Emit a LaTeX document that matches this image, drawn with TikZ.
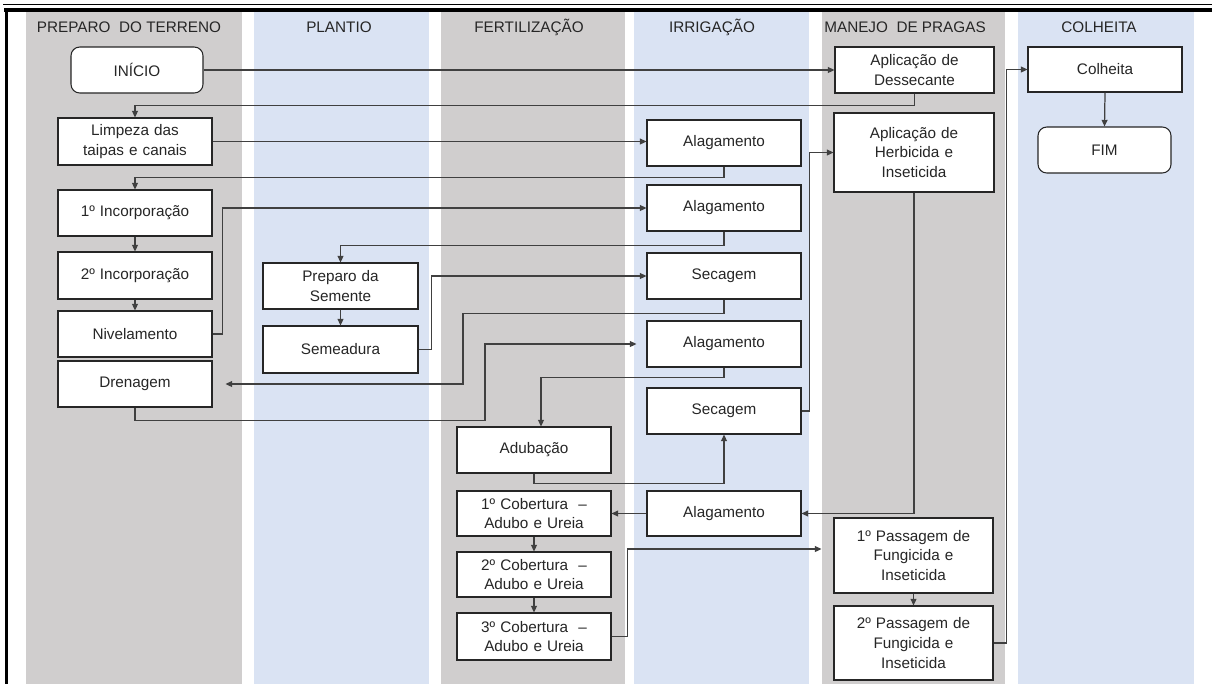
\documentclass[tikz,border=0pt]{standalone}
\usepackage{fontspec}
\setmainfont{Liberation Sans}
\usetikzlibrary{arrows.meta}
\definecolor{lanegray}{RGB}{208,206,206}
\definecolor{laneblue}{RGB}{218,227,243}
\definecolor{txt}{RGB}{38,38,38}
\definecolor{conn}{RGB}{64,64,64}
\tikzset{
  boxnode/.style 2 args={draw=black!85, line width=0.6pt, fill=white, align=center,
    text=txt, font=\fontsize{8.7}{11.3}\selectfont, inner sep=1pt,
    minimum width=#1*0.02cm, minimum height=#2*0.02cm, text width=#1*0.02cm-6pt},
  roundnode/.style 2 args={boxnode={#1}{#2}, rounded corners=5pt},
  lanehead/.style={text=txt, font=\fontsize{8.7}{10}\selectfont, anchor=center},
  flow/.style={draw=conn, line width=0.7pt, -{Triangle[length=3.8pt,width=3.4pt]}},
}
\begin{document}
\begin{tikzpicture}[x=0.02cm,y=-0.02cm]
\useasboundingbox (0,0) rectangle (1212,684);
\fill[white] (0,0) rectangle (1212,684);
% lanes
\fill[lanegray] (26,12) rectangle (242,684);
\fill[laneblue] (254,12) rectangle (429,684);
\fill[lanegray] (441,12) rectangle (625,684);
\fill[laneblue] (634,12) rectangle (809,684);
\fill[lanegray] (822,12) rectangle (1005,684);
\fill[laneblue] (1018,12) rectangle (1194,684);
% frame
\draw[line width=0.8pt] (3,4.5) -- (1212,4.5);
\draw[line width=2.3pt] (4,10) -- (1212,10);
\draw[line width=2pt] (6.5,9) -- (6.5,684);
% headers
\node[lanehead] (h1) at (129,27) {PREPARO\ \ DO TERRENO};
\node[lanehead] (h2) at (339,27) {PLANTIO};
\node[lanehead] (h3) at (529,27) {FERTILIZAÇÃO};
\node[lanehead] (h4) at (712,27) {IRRIGAÇÃO};
\node[lanehead] (h5) at (905,27) {MANEJO\ \ DE PRAGAS};
\node[lanehead] (h6) at (1099,27) {COLHEITA};
% nodes
\node[roundnode={132}{46}] (inicio) at (137,70) {INÍCIO};
\node[boxnode={154}{47}] (limpeza) at (135,141.5) {Limpeza das\\taipas e canais};
\node[boxnode={154}{46}] (inc1) at (135,213) {1º Incorporação};
\node[boxnode={154}{47}] (inc2) at (135,275.5) {2º Incorporação};
\node[boxnode={154}{46}] (nivel) at (135,334) {Nivelamento};
\node[boxnode={154}{46}] (dren) at (135,384) {Drenagem};
\node[boxnode={155}{46}] (prep) at (340.5,286) {Preparo da\\Semente};
\node[boxnode={155}{47}] (seme) at (340.5,349.5) {Semeadura};
\node[boxnode={154}{46}] (adub) at (534,450) {Adubação};
\node[boxnode={154}{45}] (cob1) at (534,513.5) {1º Cobertura \ –\\Adubo e Ureia};
\node[boxnode={154}{45}] (cob2) at (534,574.5) {2º Cobertura \ –\\Adubo e Ureia};
\node[boxnode={154}{47}] (cob3) at (534,636.5) {3º Cobertura \ –\\Adubo e Ureia};
\node[boxnode={154}{46}] (alag1) at (724,143) {Alagamento};
\node[boxnode={154}{46}] (alag2) at (724,208) {Alagamento};
\node[boxnode={154}{46}] (sec1) at (724,276) {Secagem};
\node[boxnode={154}{46}] (alag3) at (724,344) {Alagamento};
\node[boxnode={154}{46}] (sec2) at (724,411) {Secagem};
\node[boxnode={154}{45}] (alag4) at (724,513.5) {Alagamento};
\node[boxnode={159}{46}] (dess) at (914.5,70) {Aplicação de\\Dessecante};
\node[boxnode={160}{79}] (herb) at (914,152.5) {Aplicação de\\Herbicida e\\Inseticida};
\node[boxnode={159}{75}] (pass1) at (913.5,555.5) {1º Passagem de\\Fungicida e\\Inseticida};
\node[boxnode={159}{74}] (pass2) at (913.5,643) {2º Passagem de\\Fungicida e\\Inseticida};
\node[boxnode={154}{45}] (colh) at (1105,69.5) {Colheita};
\node[roundnode={133}{46}] (fim) at (1104.5,150) {FIM};
% connectors
\draw[flow] (inicio.east) -- (dess.west);
\draw[flow] (dess.south) -- ++(0,12) -| (limpeza.north);
\draw[flow] (limpeza.east) -- (limpeza.east -| alag1.west);
\draw[flow] (alag1.south) -- ++(0,11) -| (inc1.north);
\draw[flow] (inc1.south) -- (inc2.north);
\draw[flow] (inc2.south) -- (nivel.north);
\draw[flow] (nivel.east) -- ++(10,0) |- (alag2.west);
\draw[flow] (alag2.south) -- ++(0,14) -| (prep.north);
\draw[flow] (prep.south) -- (seme.north);
\draw[flow] (seme.east) -- ++(13,0) |- (sec1.west);
\draw[flow, shorten >=0.26cm] (sec1.south) -- ++(0,14) -- ++(-261,0) |- (dren.east);
\draw[flow, shorten >=0.2cm] (dren.south) -- ++(0,13) -- ++(350,0) |- (alag3.west);
\draw[flow] (alag3.south) -- ++(0,10) -| ([xshift=0.14cm]adub.north);
\draw[flow] (adub.south) -- ++(0,10) -| (sec2.south);
\draw[flow] (sec2.east) -- ++(8,0) |- (herb.west);
\draw[flow] (herb.south) |- (alag4.east);
\draw[flow] (alag4.west) -- (cob1.east);
\draw[flow] (cob1.south) -- (cob2.north);
\draw[flow] (cob2.south) -- (cob3.north);
\draw[flow, shorten >=0.24cm] (cob3.east) -- ++(16,0) |- ([yshift=0.13cm]pass1.west);
\draw[flow] (pass1.south) -- (pass2.north);
\draw[flow] (pass2.east) -- ++(13,0) |- (colh.west);
\draw[flow] (colh.south) -- (fim.north);
\end{tikzpicture}
\end{document}
